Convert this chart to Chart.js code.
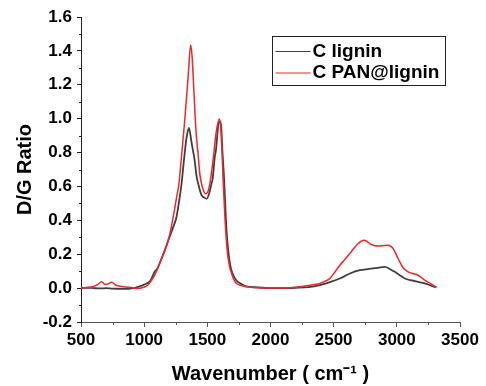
<!DOCTYPE html>
<html>
<head>
<meta charset="utf-8">
<script src="https://cdn.jsdelivr.net/npm/chart.js@4.4.1/dist/chart.umd.min.js"></script>
<style>
  html, body { margin: 0; padding: 0; background: #fff; }
  #wrap { width: 486px; height: 386px; }
</style>
</head>
<body>
<div id="wrap"><canvas id="raman"></canvas></div>
<script>
const seriesNames = ['C lignin', 'C PAN@lignin'];

const ligninX = [500, 550, 600, 650, 700, 750, 800, 850, 900, 940, 980, 1020, 1050, 1085, 1100, 1130, 1164, 1200, 1230, 1256, 1280, 1296, 1310, 1323, 1336, 1354, 1375, 1389, 1396, 1415, 1428, 1455, 1475, 1494, 1515, 1534, 1541, 1560, 1568, 1585, 1600, 1610, 1620, 1630, 1652, 1665, 1680, 1700, 1730, 1760, 1800, 1900, 2000, 2100, 2200, 2300, 2391, 2470, 2549, 2628, 2707, 2780, 2852, 2905, 2950, 2984, 3020, 3063, 3120, 3168, 3220, 3270, 3313];
const ligninY = [0.0, 0.002, 0.0, -0.002, 0.0, -0.003, -0.004, -0.005, -0.002, 0.005, 0.015, 0.027, 0.045, 0.1, 0.11, 0.16, 0.224, 0.3, 0.36, 0.42, 0.53, 0.616, 0.72, 0.812, 0.89, 0.945, 0.86, 0.8, 0.773, 0.66, 0.616, 0.547, 0.535, 0.527, 0.56, 0.62, 0.64, 0.78, 0.812, 0.95, 0.985, 0.95, 0.8, 0.68, 0.34, 0.224, 0.14, 0.086, 0.045, 0.028, 0.012, 0.004, 0.0, 0.0, 0.002, 0.006, 0.018, 0.035, 0.057, 0.086, 0.106, 0.113, 0.12, 0.125, 0.11, 0.096, 0.078, 0.057, 0.045, 0.037, 0.028, 0.015, 0.004];

const panX = [500, 550, 600, 630, 663, 690, 715, 743, 770, 800, 850, 900, 950, 995, 1030, 1059, 1085, 1112, 1140, 1164, 1200, 1230, 1257, 1275, 1296, 1320, 1336, 1352, 1368, 1380, 1396, 1410, 1428, 1441, 1454, 1470, 1486, 1505, 1520, 1536, 1552, 1570, 1594, 1606, 1618, 1626, 1639, 1657, 1675, 1692, 1710, 1731, 1770, 1810, 1900, 2000, 2100, 2233, 2300, 2391, 2430, 2470, 2510, 2549, 2590, 2628, 2660, 2694, 2739, 2765, 2786, 2820, 2852, 2900, 2931, 2971, 3000, 3023, 3050, 3089, 3120, 3155, 3190, 3221, 3270, 3313];
const panY = [0.0, 0.004, 0.01, 0.02, 0.037, 0.022, 0.025, 0.035, 0.02, 0.012, 0.006, 0.004, -0.003, 0.005, 0.018, 0.047, 0.08, 0.125, 0.18, 0.224, 0.31, 0.42, 0.537, 0.616, 0.78, 0.98, 1.13, 1.29, 1.435, 1.36, 1.125, 0.93, 0.78, 0.67, 0.616, 0.575, 0.557, 0.57, 0.616, 0.7, 0.8, 0.92, 0.998, 0.95, 0.773, 0.62, 0.42, 0.224, 0.13, 0.086, 0.05, 0.027, 0.015, 0.008, 0.002, 0.0, 0.0, 0.008, 0.015, 0.027, 0.04, 0.057, 0.095, 0.135, 0.17, 0.204, 0.235, 0.263, 0.282, 0.275, 0.263, 0.252, 0.249, 0.252, 0.253, 0.233, 0.19, 0.155, 0.12, 0.096, 0.088, 0.08, 0.065, 0.047, 0.025, 0.004];

const xMinorTicks = [750, 1250, 1750, 2250, 2750, 3250];
const yMinorTicks = [-0.1, 0.1, 0.3, 0.5, 0.7, 0.9, 1.1, 1.3, 1.5];

const FONT = "'Liberation Sans', Arial, sans-serif";

function toPoints(xs, ys) {
  return xs.map((x, i) => ({ x: x, y: ys[i] }));
}

// short minor ticks outside the axes
const minorTicks = {
  id: 'minorTicks',
  afterDraw(chart) {
    const ctx = chart.ctx;
    const xs = chart.scales.x, ys = chart.scales.y;
    ctx.save();
    ctx.lineWidth = 1;
    ctx.strokeStyle = '#555';
    xMinorTicks.forEach(v => {
      const px = Math.round(xs.getPixelForValue(v)) + 0.5;
      ctx.beginPath();
      ctx.moveTo(px, xs.top);
      ctx.lineTo(px, xs.top + 3);
      ctx.stroke();
    });
    ctx.strokeStyle = '#222';
    yMinorTicks.forEach(v => {
      const py = Math.round(ys.getPixelForValue(v)) + 0.5;
      ctx.beginPath();
      ctx.moveTo(ys.right - 2, py);
      ctx.lineTo(ys.right, py);
      ctx.stroke();
    });
    ctx.restore();
  }
};

// boxed legend inside the plot
const boxLegend = {
  id: 'boxLegend',
  afterDraw(chart) {
    const ctx = chart.ctx;
    const left = 272.5, top = 36.5, w = 173, h = 49;
    ctx.save();
    ctx.strokeStyle = '#222';
    ctx.lineWidth = 1;
    ctx.strokeRect(left, top, w, h);
    ctx.font = 'bold 19px ' + FONT;
    ctx.textBaseline = 'middle';
    ctx.fillStyle = '#000';
    chart.data.datasets.forEach((ds, i) => {
      const y = 51.5 + i * 21.5;
      ctx.strokeStyle = ds.borderColor;
      ctx.lineWidth = 1.2;
      ctx.beginPath();
      ctx.moveTo(left + 3, y);
      ctx.lineTo(left + 38, y);
      ctx.stroke();
      ctx.fillText(ds.label, left + 40, y);
    });
    ctx.restore();
  }
};

new Chart(document.getElementById('raman').getContext('2d'), {
  type: 'line',
  data: {
    datasets: [{
      label: seriesNames[0],
      data: toPoints(ligninX, ligninY),
      borderColor: '#3f3f3f',
      borderWidth: 1.8,
      pointRadius: 0,
      cubicInterpolationMode: 'monotone',
      order: 1
    }, {
      label: seriesNames[1],
      data: toPoints(panX, panY),
      borderColor: '#f2262a',
      borderWidth: 1.5,
      pointRadius: 0,
      cubicInterpolationMode: 'monotone',
      order: 0
    }]
  },
  options: {
    responsive: true,
    maintainAspectRatio: false,
    animation: false,
    layout: { padding: { left: 5, top: 17, right: 26, bottom: 0 } },
    plugins: {
      legend: { display: false },
      tooltip: { enabled: false }
    },
    scales: {
      x: {
        type: 'linear',
        min: 500,
        max: 3500,
        afterFit: scale => { scale.height = 64; },
        ticks: {
          stepSize: 500,
          padding: 3,
          maxRotation: 0,
          color: '#000',
          font: { family: FONT, size: 17, weight: 'bold' },
          callback: v => String(v)
        },
        grid: { drawOnChartArea: false, tickLength: 5, tickColor: '#555' },
        border: { color: '#555', width: 1 },
        title: {
          display: true,
          text: 'Wavenumber ( cm\u207B\u00B9 )',
          color: '#000',
          padding: { top: 0, bottom: 0 },
          font: { family: FONT, size: 20, weight: 'bold' }
        }
      },
      y: {
        min: -0.2,
        max: 1.6,
        afterFit: scale => { scale.width = 76; },
        ticks: {
          stepSize: 0.2,
          padding: 5,
          color: '#000',
          font: { family: FONT, size: 17, weight: 'bold' },
          callback: v => v.toFixed(1)
        },
        grid: { drawOnChartArea: false, tickLength: 4, tickColor: '#222' },
        border: { color: '#222', width: 1 },
        title: {
          display: true,
          text: 'D/G Ratio',
          color: '#000',
          padding: { top: 8, bottom: 0 },
          font: { family: FONT, size: 20, weight: 'bold' }
        }
      }
    }
  },
  plugins: [minorTicks, boxLegend]
});
</script>
</body>
</html>
